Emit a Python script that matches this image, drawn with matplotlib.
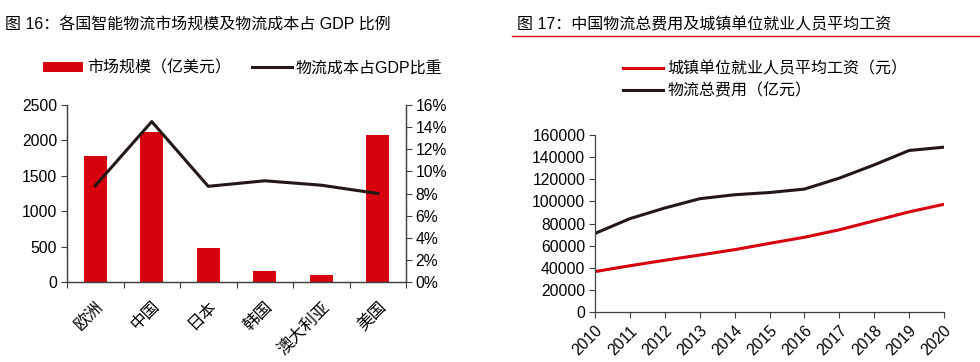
import matplotlib
matplotlib.use("Agg")
import matplotlib.pyplot as plt
from matplotlib.ticker import FuncFormatter, FixedLocator
from matplotlib.patches import Patch
from matplotlib.lines import Line2D

plt.rcParams['font.family'] = ['Liberation Sans', 'Noto Sans CJK SC', 'DejaVu Sans']

# Left chart data
countries = ['欧洲', '中国', '日本', '韩国', '澳大利亚', '美国']
market_size = [1783, 2120, 487, 152, 104, 2075]
cost_ratio = [8.7, 14.5, 8.65, 9.15, 8.75, 8.0]

# Right chart data
years = [2010, 2011, 2012, 2013, 2014, 2015, 2016, 2017, 2018, 2019, 2020]
avg_wage = [36539, 41799, 46769, 51483, 56360, 62029, 67569, 74318, 82413, 90501, 97379]
logistics_cost = [71000, 84400, 94000, 102400, 106000, 108000, 111100, 121000, 133000, 146000, 149000]

RED = '#D7000F'
BLACK = '#231815'
SPINE = '#404040'
FS_TICK = 11.3
FS_TEXT = 11.5
FS_CAT = 12

fig = plt.figure(figsize=(9.8, 3.62), dpi=100)

# ---------- Left chart ----------
ax1 = fig.add_axes([67/980, 1-282/362, (406-67)/980, (282-105)/362])
x = list(range(len(countries)))
ax1.bar(x, market_size, width=0.4, color=RED, zorder=2)
ax1.set_xlim(-0.5, 5.5)
ax1.set_ylim(0, 2500)
ax1.set_yticks([0, 500, 1000, 1500, 2000, 2500])
ax1.xaxis.set_major_locator(FixedLocator([i - 0.5 for i in range(7)]))
ax1.xaxis.set_minor_locator(FixedLocator(x))
ax1.set_xticklabels([])
ax1.set_xticklabels(countries, minor=True, rotation=45, ha='right', va='top',
                    rotation_mode='anchor', fontsize=FS_CAT)
ax1.tick_params(axis='x', which='minor', length=0, pad=12)
ax1.tick_params(axis='x', which='major', length=4, direction='out', color=SPINE)
ax1.tick_params(axis='y', length=4, direction='out', color=SPINE, labelsize=FS_TICK, pad=3)
ax1.spines['top'].set_visible(False)
for s in ['left', 'bottom', 'right']:
    ax1.spines[s].set_color(SPINE)
    ax1.spines[s].set_linewidth(0.9)

ax1b = ax1.twinx()
ax1b.plot(x, cost_ratio, color=BLACK, lw=2.2, zorder=3)
ax1b.set_ylim(0, 16)
ax1b.set_yticks(list(range(0, 17, 2)))
ax1b.yaxis.set_major_formatter(FuncFormatter(lambda v, p: f'{int(v)}%'))
ax1b.tick_params(axis='y', length=4, direction='out', color=SPINE, labelsize=FS_TICK, pad=3)
ax1b.spines['top'].set_visible(False)
for s in ['left', 'bottom', 'right']:
    ax1b.spines[s].set_color(SPINE)
    ax1b.spines[s].set_linewidth(0.9)

fig.text(5/980, 1-25/362, '图 16：各国智能物流市场规模及物流成本占 GDP 比例', fontsize=FS_TEXT,
         va='center', ha='left')
handles1 = [Patch(facecolor=RED, edgecolor='none'), Line2D([], [], color=BLACK, lw=2.2)]
fig.legend(handles1, ['市场规模（亿美元）', '物流成本占GDP比重'], loc='center left',
           bbox_to_anchor=(43/980, 1-68/362), ncol=2, frameon=False, fontsize=FS_TEXT,
           handlelength=2.5, handleheight=0.6, handletextpad=0.25, columnspacing=1.3,
           borderaxespad=0, borderpad=0)

# ---------- Right chart ----------
ax2 = fig.add_axes([595/980, 1-312/362, (944-595)/980, (312-135)/362])
ax2.plot(years, avg_wage, color=RED, lw=2.2, label='城镇单位就业人员平均工资（元）')
ax2.plot(years, logistics_cost, color=BLACK, lw=2.2, label='物流总费用（亿元）')
ax2.set_xlim(2010, 2020)
ax2.set_ylim(0, 160000)
ax2.set_yticks(list(range(0, 160001, 20000)))
ax2.set_xticks(years)
ax2.set_xticklabels([str(y) for y in years], rotation=45, ha='right', va='top',
                    rotation_mode='anchor', fontsize=FS_TICK)
ax2.tick_params(axis='x', length=4, direction='out', color=SPINE, pad=4)
ax2.tick_params(axis='y', length=4, direction='out', color=SPINE, labelsize=FS_TICK, pad=3)
for s in ['top', 'right']:
    ax2.spines[s].set_visible(False)
for s in ['left', 'bottom']:
    ax2.spines[s].set_color(SPINE)
    ax2.spines[s].set_linewidth(0.9)

fig.text(517/980, 1-24.5/362, '图 17：中国物流总费用及城镇单位就业人员平均工资', fontsize=FS_TEXT,
         va='center', ha='left')
fig.add_artist(Line2D([512/980, 1.0], [1-36/362, 1-36/362], color=RED, lw=1.0,
                      transform=fig.transFigure))
fig.legend(*ax2.get_legend_handles_labels(), loc='center left',
           bbox_to_anchor=(623/980, 1-80/362), ncol=1, frameon=False, fontsize=FS_TEXT,
           handlelength=2.5, handletextpad=0.3, labelspacing=0.4,
           borderaxespad=0, borderpad=0)

fig.savefig('out.png', dpi=100)
